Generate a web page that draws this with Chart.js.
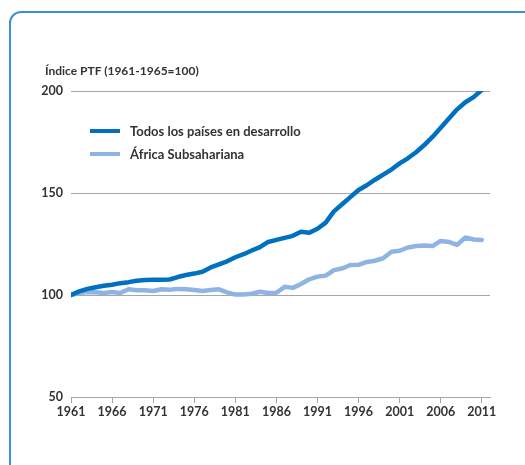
<!DOCTYPE html>
<html>
<head>
<meta charset="utf-8">
<script src="https://cdn.jsdelivr.net/npm/chart.js@4/dist/chart.umd.min.js"></script>
<style>
  html, body { margin: 0; padding: 0; background: #fff; overflow: hidden; }
  body { width: 525px; height: 465px; position: relative; font-family: Lato, "Noto Sans", sans-serif; }
  .card { position: absolute; left: 9px; top: 11px; width: 560px; height: 500px;
          border: 2px solid #3d8fd6; border-radius: 12px; box-sizing: border-box; }
  #chart { position: absolute; left: 0; top: 0; }
  .title { position: absolute; left: 45px; top: 63px; font-size: 12px; font-weight: bold; color: #333; }
  .legend { position: absolute; left: 90px; top: 119px; }
  .legend div { height: 23px; display: flex; align-items: center; font-size: 13px; font-weight: bold; color: #333; }
  .legend span.sw { display: inline-block; width: 30px; height: 4px; margin-right: 10px; }
</style>
</head>
<body>
<div class="card"></div>
<canvas id="chart" width="525" height="465"></canvas>
<div class="title">Índice PTF (1961-1965=100)</div>
<div class="legend" id="legend"></div>
<script>
// years 1961..2011
const years = [];
for (let y = 1961; y <= 2011; y++) years.push(y);

const xTickYears = [1961, 1966, 1971, 1976, 1981, 1986, 1991, 1996, 2001, 2006, 2011];
const yTicks = [50, 100, 150, 200];

const seriesNames = ['Todos los países en desarrollo', 'África Subsahariana'];
const seriesColors = ['#0070c0', '#8eb4e3'];

const developing = [
  100, 101.8, 103, 103.8, 104.5, 105, 105.8, 106.3, 107, 107.4,
  107.5, 107.5, 107.6, 108.8, 109.8, 110.5, 111.4, 113.5, 115, 116.5,
  118.5, 120, 121.8, 123.5, 126, 127, 128, 129, 131, 130.5,
  132.5, 135.5, 141, 144.5, 148, 151.5, 153.8, 156.5, 159, 161.5,
  164.5, 167, 170, 173.5, 177.5, 182, 186.5, 191, 194.5, 197,
  200.5
];
const subSaharan = [
  100, 101, 101.5, 101.3, 101, 101.5, 101, 102.8, 102.3, 102.3,
  102, 102.8, 102.6, 103, 102.8, 102.4, 102, 102.5, 102.8, 101.3,
  100.2, 100.3, 100.6, 101.6, 101, 101.1, 104, 103.5, 105.4, 107.7,
  109, 109.5, 112.2, 113, 114.7, 114.8, 116.2, 116.8, 118, 121.2,
  121.7, 123.3, 124, 124.3, 124, 126.5, 126, 124.6, 128.2, 127.2,
  127
];

const toPoints = (vals) => vals.map((v, i) => ({ x: years[i], y: v }));

// legend in html
const legendEl = document.getElementById('legend');
seriesNames.forEach((name, i) => {
  const row = document.createElement('div');
  row.innerHTML = `<span class="sw" style="background:${seriesColors[i]}"></span>${name}`;
  legendEl.appendChild(row);
});

const tickFont = { family: 'Lato, "Noto Sans", sans-serif', size: 12.5, weight: 'bold' };

new Chart(document.getElementById('chart').getContext('2d'), {
  type: 'line',
  data: {
    datasets: [
      { label: seriesNames[0], data: toPoints(developing), borderColor: seriesColors[0] },
      { label: seriesNames[1], data: toPoints(subSaharan), borderColor: seriesColors[1] }
    ]
  },
  options: {
    responsive: false,
    animation: false,
    layout: { padding: { left: 0, right: 35, top: 91, bottom: 0 } },
    elements: {
      line: { borderWidth: 4.5, tension: 0, borderCapStyle: 'round', borderJoinStyle: 'round' },
      point: { radius: 0 }
    },
    plugins: { legend: { display: false }, tooltip: { enabled: false } },
    scales: {
      x: {
        type: 'linear',
        min: 1961,
        max: 2012,
        afterBuildTicks: (scale) => { scale.ticks = xTickYears.map(v => ({ value: v })); },
        afterFit: (scale) => { scale.height = 68; },
        grid: { drawOnChartArea: false, drawTicks: true, tickLength: 6, color: '#a6a6a6' },
        border: { color: '#a6a6a6' },
        ticks: { color: '#333', font: tickFont, padding: 1, maxRotation: 0, autoSkip: false,
                 callback: (v) => String(v) }
      },
      y: {
        min: 50,
        max: 200,
        afterBuildTicks: (scale) => { scale.ticks = yTicks.map(v => ({ value: v })); },
        afterFit: (scale) => { scale.width = 71; },
        grid: { color: '#a6a6a6', drawTicks: false },
        border: { display: false },
        ticks: { color: '#333', font: tickFont, padding: 8 }
      }
    }
  }
});
</script>
</body>
</html>
